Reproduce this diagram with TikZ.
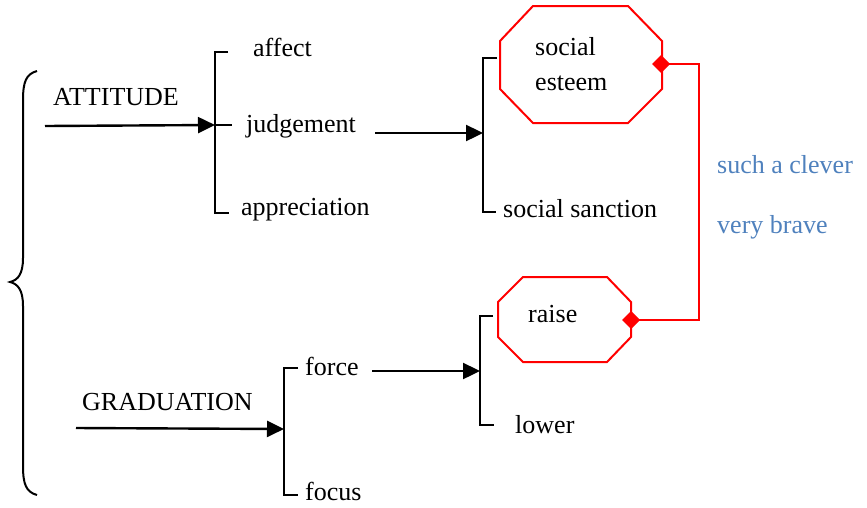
\documentclass[tikz,border=0pt]{standalone}
\usepackage{fontspec}
\setmainfont{Liberation Serif}
\usetikzlibrary{arrows.meta}
\definecolor{leafblue}{HTML}{4F81BD}
\begin{document}
\begin{tikzpicture}[x=1pt,y=-1pt,
  lbl/.style={anchor=base west,inner sep=0pt,font=\fontsize{26}{30}\selectfont},
  note/.style={lbl,text=leafblue},
  tree/.style={line width=2.4pt},
  feed/.style={line width=2.4pt,-{Triangle[length=17pt,width=16pt]}},
  oct/.style={draw=red,line width=2pt},
  link/.style={red,line width=2.4pt},
  knob/.style={fill=red}]
\useasboundingbox (0,0) rectangle (867,507);

% curly brace grouping the two systems
\draw[line width=2pt] (37,71) .. controls (26,74) and (23,82) .. (23,100)
  -- (23,258) .. controls (23,274) and (18,280) .. (10,282)
  .. controls (18,284) and (23,290) .. (23,306)
  -- (23,466) .. controls (23,484) and (26,492) .. (37,495);

% system labels
\node[lbl] (att) at (53,105) {ATTITUDE};
\node[lbl] (grad) at (82,410) {GRADUATION};
\coordinate (attin) at (45,126);
\coordinate (gradin) at (76,428);

% ATTITUDE options
\node[lbl] (affect) at (253,56) {affect};
\node[lbl] (judg) at (246,132) {judgement};
\node[lbl] (appr) at (241,215) {appreciation};
\coordinate (b1t) at (215,52);
\coordinate (b1m) at (215,125);
\coordinate (b1b) at (215,213);
\draw[tree] (228,52) -- (b1t) -- (b1b) -- (229,213);
\draw[tree] (b1m) -- (232,125);
\draw[feed] (attin) -- (b1m);

% judgement options
\coordinate (b2t) at (483,58);
\coordinate (b2m) at (483,133);
\coordinate (b2b) at (483,212);
\draw[tree] (497,58) -- (b2t) -- (b2b) -- (496,212);
\coordinate (judgout) at (375,133);
\draw[feed] (judgout) -- (b2m);
\node[lbl] (sanction) at (503,217) {social sanction};

% social esteem octagon
\draw[oct] (533,6) -- (628,6) -- (662,41) -- (662,89) -- (628,123)
  -- (533,123) -- (500,89) -- (500,41) -- cycle;
\node[lbl] (soc) at (535,55) {social};
\node[lbl] (est) at (535,90) {esteem};

% GRADUATION options
\node[lbl] (force) at (305,375) {force};
\node[lbl] (focus) at (305,500) {focus};
\coordinate (b4t) at (284,368);
\coordinate (b4m) at (284,429);
\coordinate (b4b) at (284,495);
\draw[tree] (298,368) -- (b4t) -- (b4b) -- (298,495);
\draw[feed] (gradin) -- (b4m);

% force options
\coordinate (b3t) at (480,316);
\coordinate (b3m) at (480,371);
\coordinate (b3b) at (480,425);
\draw[tree] (493,316) -- (b3t) -- (b3b) -- (494,425);
\coordinate (forceout) at (372,371);
\draw[feed] (forceout) -- (b3m);
\node[lbl] (lower) at (515,433) {lower};

% raise octagon
\draw[oct] (523,277) -- (607,277) -- (631,302) -- (631,337) -- (607,362)
  -- (523,362) -- (498,337) -- (498,302) -- cycle;
\node[lbl] (raise) at (528,322) {raise};

% link between the two highlighted options, with diamond ends
\coordinate (k1) at (661,64);
\coordinate (k2) at (631,320);
\draw[link] (k1) -- (699,64) |- (k2);
\fill[knob] (k1) ++(-9,0) -- ++(9,-9) -- ++(9,9) -- ++(-9,9) -- cycle;
\fill[knob] (k2) ++(-9,0) -- ++(9,-9) -- ++(9,9) -- ++(-9,9) -- cycle;

% examples
\node[note] (ex1) at (717,173) {such a clever};
\node[note] (ex2) at (717,233) {very brave};
\end{tikzpicture}
\end{document}
